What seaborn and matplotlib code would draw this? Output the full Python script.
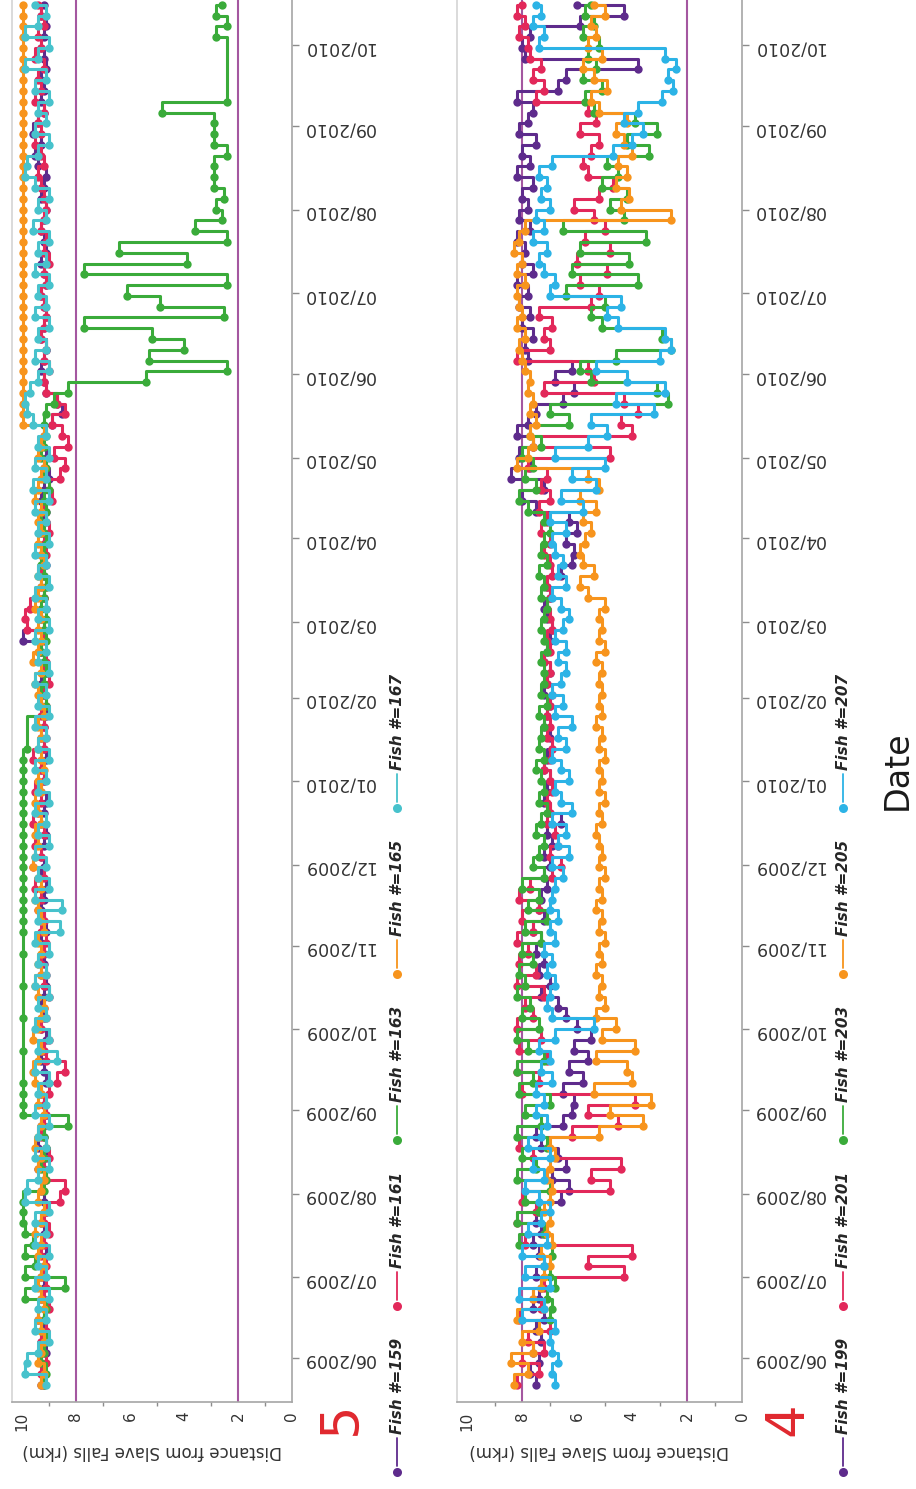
import numpy as np
import pandas as pd
import matplotlib
matplotlib.use("Agg")
import matplotlib.pyplot as plt
import matplotlib.dates as mdates
from matplotlib.lines import Line2D
from matplotlib.ticker import MultipleLocator
import seaborn as sns

nan = np.nan

# Telemetry positions: one fix every 4 days starting 22 May 2009
survey_start = "2009-05-22"
n_obs = 129
step = "4D"

# ---- Panel 5 -------------------------------------------------------------
fish_ids_5 = [159, 161, 163, 165, 167]

fish159 = [
    9.3, 9.2, 9.3, 9.1, 9.3, 9.2, 9.4, 9.1, 9.3, 9.2,
    9.3, 9.2, 9.1, 9.3, 9.2, 9.3, 9.1, 9.2, 9.3, 9.2,
    9.4, 9.1, 9.4, 9.2, 9.3, 9.1, 9.2, 9.3, 9.1, 9.2,
    9.3, 9.2, 9.1, 9.3, 9.2, 9.3, 9.2, 9.1, 9.3, 9.2,
    9.2, 9.3, 9.1, 9.2, 9.3, 9.2, 9.1, 9.3, 9.2, 9.3,
    9.2, 9.1, 9.3, 9.2, 9.1, 9.3, 9.2, 9.3, 9.1, 9.2,
    9.3, 9.2, 9.1, 9.3, 9.2, 9.3, 9.1, 9.2, 9.3, 9.95,
    9.2, 9.3, 9.1, 9.2, 9.3, 9.2, 9.1, 9.3, 9.2, 9.3,
    9.2, 9.1, 9.3, 9.2, 9.0, 9.2, 9.1, 9.3, 9.2, 8.9,
    8.5, 8.7, 9.1, 9.2, 9.3, 9.2, 9.1, 9.3, 9.2, 9.1,
    9.2, 9.3, 9.1, 9.2, 9.3, 9.1, 9.2, 9.3, 9.2, 9.1,
    9.3, 9.2, 9.1, 9.4, 9.5, 9.3, 9.6, 9.4, 9.2, 9.3,
    9.2, 9.3, 9.1, 9.2, 9.3, 9.2, 9.1, 9.3, 9.2,
]

fish161 = [
    9.2, 9.3, 9.1, 9.2, 9.3, 9.1, 9.2, 9.0, 9.2, 9.1,
    9.2, 9.1, 9.3, 9.2, 9.0, 9.2, 9.1, 8.6, 8.4, 9.1,
    9.2, 9.0, 9.1, 9.3, 9.2, 9.1, 9.2, 9.0, 8.7, 8.4,
    9.1, 9.2, 9.0, 9.3, 9.1, 9.2, 9.0, 9.2, 9.1, 9.3,
    9.2, 9.1, 9.3, 9.2, 9.4, 9.3, 9.5, 9.2, 9.6, 9.3,
    9.5, 9.2, 9.6, 9.4, 9.3, 9.5, 9.2, 9.3, 9.6, 9.2,
    9.1, 9.2, 9.3, 9.1, 9.2, 9.0, 9.2, 9.1, 9.3, 9.2,
    9.8, 9.9, 9.7, 9.2, 9.1, 9.3, 9.2, 9.1, 9.2, 9.0,
    9.1, 9.2, 8.9, 9.0, 8.6, 8.4, 8.8, 8.3, 8.5, 8.9,
    8.4, 8.7, 9.1, 9.2, 9.0, 9.2, 9.1, 9.3, 9.2, 9.1,
    9.2, 9.3, 9.1, 9.2, 9.0, 9.2, 9.1, 9.3, 9.2, 9.1,
    9.2, 9.3, 9.4, 9.2, 9.3, 9.5, 9.3, 9.4, 9.2, 9.5,
    9.3, 9.4, 9.2, 9.5, 9.3, 9.4, 9.2, 9.3, 9.4,
]

fish163 = [
    9.2, 9.1, 9.3, 9.2, 9.1, 9.3, 9.2, 9.1, 9.9, 8.4,
    9.9, 9.5, 9.9, 9.6, 9.9, 9.95, 9.95, 9.95, 9.2, 9.1,
    9.3, 9.2, 9.1, 9.2, 8.3, 9.95, 9.95, 9.95, 9.95, nan,
    nan, 9.95, nan, nan, 9.95, nan, nan, 9.95, nan, nan,
    9.95, nan, 9.95, 9.95, 9.95, 9.95, 9.95, 9.95, 9.95, 9.95,
    9.95, 9.95, 9.95, 9.95, 9.95, 9.95, 9.95, 9.95, 9.95, 9.8,
    nan, nan, 9.2, 9.1, 9.3, 9.2, 9.1, 9.2, 9.3, 9.1,
    9.2, 9.1, 9.3, 9.2, 9.1, 9.2, 9.3, 9.2, 9.1, 9.2,
    9.3, 9.1, 9.2, 9.0, 9.2, 9.1, 9.3, 9.2, 9.1, 9.2,
    9.1, 8.8, 8.3, 5.4, 2.4, 5.3, 4.0, 5.2, 7.7, 2.5,
    4.9, 6.1, 2.4, 7.7, 3.9, 6.4, 2.4, 3.6, 2.6, 2.8,
    2.5, 2.9, 2.9, 2.9, 2.4, 2.9, 2.9, 2.9, 4.8, 2.4,
    nan, nan, nan, nan, nan, 2.8, 2.4, 2.8, 2.6,
]

fish165 = [
    9.3, 9.2, 9.4, 9.3, 9.2, 9.3, 9.4, 9.2, 9.3, 9.4,
    9.3, 9.2, 9.4, 9.3, 9.5, 9.3, 9.2, 9.4, 9.3, 9.2,
    9.4, 9.3, 9.5, 9.4, 9.3, 9.2, 9.4, 9.3, 9.5, 9.6,
    9.4, 9.3, 9.6, 9.4, 9.3, 9.2, 9.4, 9.5, 9.3, 9.4,
    9.3, 9.4, 9.2, 9.3, 9.4, 9.5, 9.3, 9.4, 9.6, 9.5,
    9.4, 9.5, 9.3, 9.4, 9.5, 9.3, 9.4, 9.2, 9.3, 9.4,
    9.3, 9.4, 9.2, 9.3, 9.4, 9.5, 9.3, 9.6, 9.4, 9.3,
    9.4, 9.3, 9.5, 9.4, 9.3, 9.4, 9.2, 9.3, 9.4, 9.3,
    9.4, 9.3, 9.5, 9.4, 9.3, 9.2, 9.4, 9.3, 9.2, 9.95,
    9.95, 9.95, 9.95, 9.95, 9.95, 9.95, 9.95, 9.95, 9.95, 9.95,
    9.95, 9.95, 9.95, 9.95, 9.95, 9.95, 9.95, 9.95, 9.95, 9.95,
    9.95, 9.95, 9.95, 9.95, 9.95, 9.95, 9.95, 9.95, 9.95, 9.95,
    9.95, 9.95, 9.95, 9.95, 9.95, 9.95, 9.95, 9.95, 9.95,
]

fish167 = [
    9.1, 9.9, 9.8, 9.4, 9.0, 9.5, 9.1, 9.4, 9.0, 9.5,
    9.1, 9.4, 9.0, 9.5, 9.1, 9.5, 9.0, 9.9, 9.8, 9.4,
    9.0, 9.5, 9.1, 9.4, 9.0, 9.5, 9.1, 9.4, 9.0, 9.5,
    8.7, 9.4, 9.0, 9.5, 9.1, 9.4, 9.0, 9.5, 9.1, 9.4,
    9.0, 9.5, 8.6, 9.4, 8.5, 9.5, 9.0, 9.4, 9.1, 9.5,
    9.0, 9.4, 9.1, 9.5, 9.0, 9.4, 9.1, 9.5, 9.0, 9.4,
    9.1, 9.5, 9.0, 9.4, 9.1, 9.5, 9.0, 9.4, 9.1, 9.5,
    9.0, 9.4, 9.1, 9.5, 9.0, 9.4, 9.1, 9.5, 9.0, 9.4,
    9.1, 9.5, 9.0, 9.6, 9.1, 9.5, 9.0, 9.4, 9.1, 9.6,
    9.8, 9.9, 9.7, 9.4, 9.0, 9.5, 9.1, 9.4, 9.0, 9.5,
    9.1, 9.4, 9.0, 9.5, 9.1, 9.4, 9.0, 9.6, 9.1, 9.4,
    9.0, 9.5, 9.9, 9.8, 9.4, 9.0, 9.5, 9.1, 9.4, 9.0,
    9.5, 9.1, 9.9, 9.4, 9.0, 9.9, 9.4, 9.1, 9.5,
]

# ---- Panel 4 -------------------------------------------------------------
fish_ids_4 = [199, 201, 203, 205, 207]

fish199 = [
    7.5, 7.7, 7.4,
    7.6, 7.3, 7.5, 7.2, 7.6, 7.4, 7.3, 7.5, 7.2, 7.4, 7.6, 7.3, 7.5, 7.4,
    6.6, 6.3, 6.9, 6.4, 6.7,
    7.3, 7.5, 6.5, 6.2,
    6.1, 6.5,
    5.8, 6.3, 5.6, 6.1, 5.5, 6.0,
    6.4, 6.7,
    7.3, 7.0, 7.4, 7.2,
    7.5, 7.3, 7.6, 7.2, 7.4,
    7.3, 7.1, 7.2, 7.0, 7.2, 6.9, 7.1, 6.6, 7.0, 7.2,
    7.1, 7.0, 7.2, 7.1, 6.9, 7.0, 7.2, 7.1, 7.0, 7.2,
    7.1, 7.0, 7.2, 7.1, 7.0, 6.9, 7.1, 7.2, 7.0, 7.1,
    6.6, 6.2,
    6.1, 6.4, 6.0, 6.3,
    7.5, 8.0, 7.2, 8.4, 7.7,
    8.1, 7.6, 8.2, 7.8, 7.5,
    6.5, 6.1, 6.8,
    6.2, 7.8,
    7.9, 7.6, 8.0, 7.7,
    8.1, 7.8, 8.2, 7.6, 8.0, 7.9, 8.2, 7.7, 8.1, 7.8, 8.0,
    7.6, 8.2, 7.7, 8.0, 7.5, 8.1, 7.8, 7.6, 8.2,
    6.7, 6.4,
    3.8, 7.9,
    8.0, 7.7, 5.9,
    4.3, 6.0,
]

fish201 = [
    8.2, 7.4, 8.0, 7.2,
    7.8, 7.0, 8.1, 7.3, 7.6,
    7.2, 4.3, 5.6, 4.0,
    7.9, 7.2, 8.2, 7.5, 8.0,
    4.8, 5.5, 4.4,
    7.6, 8.1,
    6.2, 4.5, 5.6, 3.9,
    8.0, 7.4, 8.2, 7.1,
    8.1, 7.3, 8.2, 7.6, 7.9, 7.2, 8.2, 7.5, 8.1, 7.8,
    8.2, 7.6, 8.0, 7.4, 8.1, 7.7,
    6.9, 6.6, 7.0, 6.7, 6.8, 7.1,
    7.0, 7.1, 6.9, 7.0, 7.2, 7.0, 6.9, 7.1, 7.0, 7.1,
    7.0, 6.9, 7.1, 7.0, 7.2, 7.0, 7.1, 6.9, 7.0, 7.1,
    7.0, 7.1, 6.9, 7.0, 7.2, 7.0, 7.3, 7.1, 7.4, 7.0,
    7.3, 7.1,
    7.8, 4.8,
    7.6, 4.0, 4.4,
    3.8, 4.3, 7.2,
    5.4, 5.6,
    8.2, 7.0,
    7.2, 6.9, 7.4,
    5.5, 5.2,
    5.9, 4.9, 6.0, 4.8, 5.7, 5.0,
    5.4, 6.1, 5.2, 4.7, 5.6, 5.8,
    5.5, 5.2, 5.9, 5.3, 5.6,
    7.5, 7.2, 7.6, 7.3, 7.7,
    7.8, 8.1, 7.9, 8.2, 8.0,
]

fish203 = [
    nan, nan, nan, nan, nan, nan,
    7.0, 6.9, 7.1, 6.8, 7.0, 7.2, 6.9,
    8.1, 7.2, 8.2, 7.4, 7.9, 7.0, 8.2, 7.5, 8.0, 7.1,
    8.2, 7.3, 7.9, 7.0, 8.1, 7.6, 8.2, 7.2, 7.8, 8.2, 7.4,
    8.0, 7.7, 8.2, 7.9, 8.1,
    7.6, 8.0, 7.3, 7.9, 7.1, 7.8, 7.4, 8.0, 7.2, 7.6,
    7.4, 7.2, 7.5, 7.3, 7.1, 7.4, 7.2, 7.3, 7.5, 7.2, 7.4, 7.3, 7.2, 7.4, 7.1, 7.3, 7.2,
    7.2, 7.3, 7.1, 7.2, 7.3, 7.2, 7.1, 7.3, 7.2, 7.4, 7.1, 7.3, 7.2, 7.0, 7.2,
    7.8, 8.1, 7.5, 7.9,
    7.6, 8.0, 7.3, 7.7,
    6.3, 7.0,
    2.7,
    3.1, 5.5,
    5.9, 4.6,
    2.6,
    2.9,
    5.1, 5.5, 5.0,
    6.4, 3.8, 6.2, 4.1,
    5.9, 3.5, 6.5, 4.3,
    4.8, 4.2, 5.1, 4.5, 4.9,
    3.4, 4.2, 3.1, 3.9,
    5.4, 5.7, 5.1, 5.8, 5.3,
    5.6, 5.2, 5.8, 5.4, 5.7, 5.5,
]

fish205 = [
    8.3, 7.8, 8.4, 7.6,
    8.0, 7.4, 8.2, 7.2, 7.6, 7.3,
    7.2, 7.0, 7.3, 6.9, 7.1, 7.0, 7.2,
    7.0, 6.9, 7.1, 7.0, 6.8, 7.0,
    5.2, 3.6, 4.8, 3.3, 5.4, 4.0,
    4.2, 5.3, 3.9, 5.1, 4.6, 5.3, 5.0,
    5.2, 5.1, 5.3, 5.1, 5.2, 5.0, 5.2, 5.1, 5.3, 5.1,
    5.2, 5.0, 5.2, 5.1, 5.2, 5.3, 5.1, 5.2, 5.0, 5.2,
    5.1, 5.2, 5.0, 5.2, 5.1, 5.3, 5.1, 5.2, 5.1, 5.2,
    5.1, 5.3, 5.0, 5.2, 5.1, 5.2, 5.0,
    5.6, 5.9, 5.4, 5.8,
    5.9, 5.7, 5.5, 5.8,
    5.3, 5.9, 5.2, 5.6,
    8.2,
    7.8, 7.6, 7.7, 7.5, 7.7, 7.6, 7.8, 7.7, 7.9, 8.0, 8.1, 7.9, 8.2, 8.0,
    8.1, 8.2, 7.9, 8.2, 8.0, 8.3, 8.1,
    7.9,
    2.6,
    4.4, 4.1, 4.6, 4.2, 4.5, 4.0,
    4.3, 4.6, 4.2,
    5.2, 5.5, 4.9, 5.4,
    5.8, 5.1, 5.6, 5.3,
    5.5, 5.0, 5.4,
]

fish207 = [
    6.8, 6.9, 6.7, 6.9,
    7.0, 6.8, 8.0, 7.2, 8.1, 7.0, 7.9, 7.2, 8.0, 7.1, 7.8, 7.3, 7.0,
    7.4, 7.9, 7.2, 7.6, 7.0, 7.8, 7.3, 7.1, 7.5,
    7.2, 7.5, 6.9, 7.3, 7.0, 7.4, 6.8, 5.4, 6.9, 7.1,
    7.0, 6.8, 7.1, 6.9, 7.2, 6.8, 7.0, 6.7, 7.0, 6.9,
    6.8, 6.5, 6.9, 6.3, 6.7, 6.4, 6.9, 6.2, 6.6, 6.8, 6.3,
    6.6, 6.9, 6.4, 6.7, 6.2, 6.8, 6.5, 6.9, 6.6, 6.4,
    6.7, 6.4, 6.8, 6.5, 6.3, 6.6, 6.9, 6.4, 6.7, 6.5, 6.8,
    6.9, 6.4, 7.0, 5.8, 6.6, 5.3,
    6.2, 5.0, 6.8, 5.6, 4.9,
    5.5, 3.2, 4.6, 2.8,
    4.2, 5.3, 3.0, 2.6, 2.8,
    4.5, 4.9, 4.4,
    7.0, 6.8, 7.2,
    7.4, 7.1, 7.6, 7.2, 7.5, 7.0,
    7.3, 7.1, 7.4, 6.9,
    4.7,
    4.0, 3.6, 4.3, 3.8,
    2.9, 2.5, 2.7, 2.4,
    2.8,
    7.4, 7.2, 7.6, 7.3, 7.5,
]

colors_5 = ["#5e2b8c", "#e2285a", "#3aab3a", "#f7941d", "#47c2cc"]
colors_4 = ["#5e2b8c", "#e2285a", "#3aab3a", "#f7941d", "#2cb3e6"]

date_ticks_fmt = "%m/%Y"
reference_rkm = [8, 2]

W, H = 916, 1489


def fx(px):
    return px / W


def fy(py):
    return 1 - py / H


sns.set_style("white")
plt.rcParams["font.family"] = ["DejaVu Sans"]
text_col = "#333333"

dates = pd.date_range(survey_start, periods=n_obs, freq=step)

fig = plt.figure(figsize=(W / 100, H / 100), dpi=100)

ax5 = fig.add_axes([fx(12), fy(1402), fx(292) - fx(12), 1 - fy(1402)])
ax4 = fig.add_axes([fx(457), fy(1402), fx(742) - fx(457), 1 - fy(1402)])


def draw_panel(ax, ids, series, colors):
    for rkm in reference_rkm:
        ax.axvline(rkm, color="#a457a0", lw=1.5, zorder=0.5)
    for fid, vals, col in zip(ids, series, colors):
        df = pd.DataFrame({"date": dates, "rkm": vals})
        sns.lineplot(data=df, x="rkm", y="date", sort=False, estimator=None,
                     color=col, marker="o", markersize=6.0, markeredgewidth=0,
                     linewidth=2.2, drawstyle="steps-pre", ax=ax, legend=False)

    ax.set_xlim(10.37, 0)
    ax.set_ylim(pd.Timestamp("2009-05-15 16:00"), pd.Timestamp("2010-10-17 18:00"))
    ax.xaxis.set_major_locator(MultipleLocator(2))
    ax.xaxis.set_minor_locator(MultipleLocator(1))
    ax.yaxis.set_major_locator(mdates.MonthLocator())
    ax.yaxis.set_major_formatter(mdates.DateFormatter(date_ticks_fmt))
    ax.yaxis.tick_right()
    ax.tick_params(axis="y", which="major", direction="out", length=5, width=1,
                   color="#8c8c8c", labelcolor=text_col, labelsize=12.5,
                   labelrotation=180, pad=3)
    ax.tick_params(axis="x", which="major", direction="out", length=5, width=1,
                   color="#8c8c8c", labelcolor=text_col, labelsize=11,
                   labelrotation=90, pad=2)
    ax.tick_params(axis="x", which="minor", direction="out", length=3, width=1,
                   color="#8c8c8c", bottom=True)
    ax.set_ylabel("")
    ax.set_xlabel("Distance from Slave Falls (rkm)", rotation=180, fontsize=12,
                  color=text_col, labelpad=8)
    ax.spines["top"].set_visible(False)
    ax.spines["left"].set_color("#d4d4d4")
    ax.spines["bottom"].set_color("#a6a6a6")
    ax.spines["right"].set_color("#a6a6a6")
    for s in ("left", "bottom", "right"):
        ax.spines[s].set_linewidth(1.2)


draw_panel(ax5, fish_ids_5, [fish159, fish161, fish163, fish165, fish167], colors_5)
draw_panel(ax4, fish_ids_4, [fish199, fish201, fish203, fish205, fish207], colors_4)


def add_legend(x_px, ids, colors):
    for k, (fid, col) in enumerate(zip(ids, colors)):
        y_dot = 1472 - 166 * k
        fig.add_artist(Line2D([fx(x_px), fx(x_px)], [fy(y_dot - 6), fy(y_dot - 34)],
                              color=col, lw=1.3, transform=fig.transFigure))
        fig.add_artist(Line2D([fx(x_px)], [fy(y_dot)], marker="o", markersize=6.5,
                              markeredgewidth=0, color=col, transform=fig.transFigure))
        fig.text(fx(x_px), fy(y_dot - 38), f"Fish #={fid}", rotation=90,
                 rotation_mode="anchor", ha="left", va="center", fontsize=11,
                 fontweight="bold", style="italic", color="#262626")


add_legend(397, fish_ids_5, colors_5)
add_legend(843, fish_ids_4, colors_4)

fig.text(fx(341), fy(1418), "5", color="#e0282e", fontsize=38, rotation=90,
         ha="center", va="center")
fig.text(fx(787), fy(1419), "4", color="#e0282e", fontsize=38, rotation=90,
         ha="center", va="center")
fig.text(fx(897), fy(770), "Date", rotation=90, fontsize=24, ha="center",
         va="center", color="#1a1a1a")

fig.savefig("out.png", dpi=100)
